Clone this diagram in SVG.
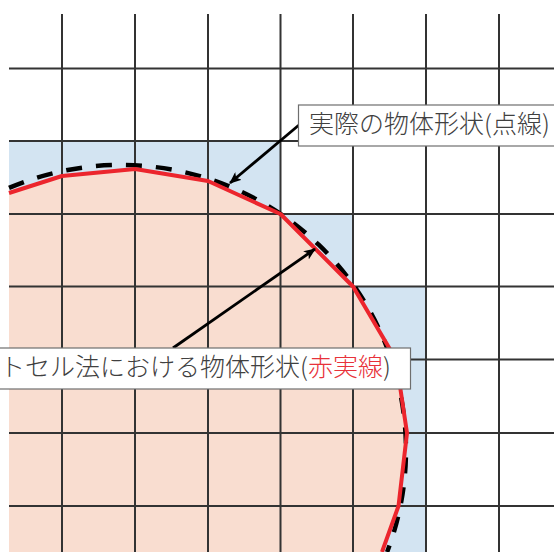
<svg xmlns="http://www.w3.org/2000/svg" width="554" height="552" viewBox="0 0 554 552">
  <style>
    .grid line { stroke: #333333; stroke-width: 2; }
    .lbl { font-family: "Noto Sans CJK JP", "Noto Sans", sans-serif; font-size: 25px; font-weight: 300; fill: #404040; }
    .red { fill: #e8323a; }
    .box { fill: #ffffff; stroke: #6e6e6e; stroke-width: 1.2; }
    .arrow { stroke: #000000; stroke-width: 2.8; fill: none; marker-end: url(#ah); }
  </style>
  <defs>
    <marker id="ah" viewBox="0 0 12 10" refX="11" refY="5" markerWidth="12" markerHeight="10" markerUnits="userSpaceOnUse" orient="auto">
      <path d="M0,0 L12,5 L0,10 L3,5 z" fill="#000000"/>
    </marker>
  </defs>
  <rect width="554" height="552" fill="#ffffff"/>

  <g id="cells">
    <polygon points="9,141 280.5,141 280.5,214 353,214 353,286.5 426,286.5 426,552 9,552" fill="#d3e4f2"/>
    <polygon points="9,193 62,176 135,169 208,181 280.5,214 353,286.5 396,359.5 407,433 398.5,506 382,552 9,552" fill="#f9ddd0"/>
  </g>

  <g id="grid" class="grid">
    <line x1="62" y1="14" x2="62" y2="552"/>
    <line x1="135" y1="14" x2="135" y2="552"/>
    <line x1="208" y1="14" x2="208" y2="552"/>
    <line x1="280.5" y1="14" x2="280.5" y2="552"/>
    <line x1="353" y1="14" x2="353" y2="552"/>
    <line x1="426" y1="14" x2="426" y2="552"/>
    <line x1="499" y1="14" x2="499" y2="552"/>
    <line x1="9" y1="68.5" x2="554" y2="68.5"/>
    <line x1="9" y1="141" x2="554" y2="141"/>
    <line x1="9" y1="214" x2="554" y2="214"/>
    <line x1="9" y1="286.5" x2="554" y2="286.5"/>
    <line x1="9" y1="359.5" x2="554" y2="359.5"/>
    <line x1="9" y1="433" x2="554" y2="433"/>
    <line x1="9" y1="506" x2="554" y2="506"/>
  </g>

  <g id="actual-shape">
    <path d="M9,187.9 A285,285 0 0,1 387.1,552" fill="none" stroke="#000000" stroke-width="4.5" stroke-dasharray="16 14"/>
  </g>

  <g id="cutcell-shape">
    <polyline points="9,193 62,176 135,169 208,181 280.5,214 353,286.5 396,359.5 407,433 398.5,506 382,552" fill="none" stroke="#ec252d" stroke-width="4" stroke-linejoin="round"/>
  </g>

  <g id="connectors">
    <line class="arrow" x1="299" y1="125" x2="230" y2="183"/>
    <line class="arrow" x1="173" y1="348" x2="315" y2="249"/>
  </g>

  <g id="label-actual">
    <rect class="box" x="298.5" y="105" width="270" height="41"/>
    <text class="lbl" x="309" y="133">実際の物体形状(点線)</text>
  </g>

  <g id="label-cutcell">
    <rect class="box" x="-5" y="348" width="415.5" height="41"/>
    <text class="lbl" x="0" y="376">トセル法における物体形状(<tspan class="red">赤実線</tspan>)</text>
  </g>
</svg>
